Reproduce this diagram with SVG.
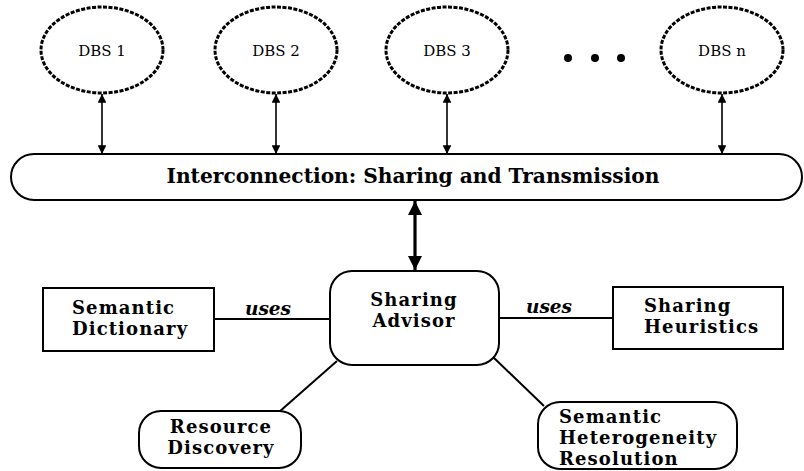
<svg xmlns="http://www.w3.org/2000/svg" width="804" height="471" viewBox="0 0 804 471">
<defs>
<style>
.db{fill:#fff;stroke:#000;stroke-width:3;stroke-dasharray:4 1.5}
.box{fill:#fff;stroke:#000;stroke-width:2}
.t{font-family:"DejaVu Serif","Liberation Serif",serif;fill:#000}
.dbt{font-size:15px}
.b{font-weight:bold;font-size:18px;letter-spacing:1.1px}
.bi{font-weight:bold;font-size:20.2px}
.u{font-weight:bold;font-style:italic;font-size:18.5px}
.ln{stroke:#000;stroke-width:2;fill:none}
.ar{stroke:#000;stroke-width:1.6;fill:none}
</style>
<marker id="ah" viewBox="0 0 10 10" refX="10" refY="5" markerWidth="5.5" markerHeight="5.5" orient="auto-start-reverse" markerUnits="strokeWidth"><path d="M0,0L10,5L0,10z" fill="#000"/></marker>
<marker id="ahb" viewBox="0 0 10 10" refX="10" refY="5" markerWidth="4.5" markerHeight="5.5" orient="auto-start-reverse" markerUnits="strokeWidth"><path d="M0,0L10,5L0,10z" fill="#000"/></marker>
</defs>
<rect width="804" height="471" fill="#fff"/>
<g id="connectors">
<line class="ar" x1="102" y1="94" x2="102" y2="154" marker-start="url(#ah)" marker-end="url(#ah)"/>
<line class="ar" x1="276" y1="94" x2="276" y2="154" marker-start="url(#ah)" marker-end="url(#ah)"/>
<line class="ar" x1="447" y1="94" x2="447" y2="154" marker-start="url(#ah)" marker-end="url(#ah)"/>
<line class="ar" x1="722" y1="94" x2="722" y2="154" marker-start="url(#ah)" marker-end="url(#ah)"/>
<line x1="415" y1="201" x2="415" y2="270" stroke="#000" stroke-width="3.2" marker-start="url(#ahb)" marker-end="url(#ahb)"/>
<line class="ln" x1="214" y1="319" x2="330" y2="319"/>
<line class="ln" x1="499" y1="318" x2="613" y2="318"/>
<line class="ln" x1="337" y1="361" x2="279" y2="412"/>
<line class="ln" x1="493" y1="357" x2="544" y2="406"/>
</g>
<g id="dbs1"><ellipse class="db" cx="102" cy="50" rx="61" ry="43"/><text class="t dbt" x="102" y="56" text-anchor="middle">DBS 1</text></g>
<g id="dbs2"><ellipse class="db" cx="276" cy="50" rx="61" ry="43"/><text class="t dbt" x="276" y="56" text-anchor="middle">DBS 2</text></g>
<g id="dbs3"><ellipse class="db" cx="447" cy="50" rx="61" ry="43"/><text class="t dbt" x="447" y="56" text-anchor="middle">DBS 3</text></g>
<g id="dots"><circle cx="568" cy="58" r="4"/><circle cx="595" cy="58" r="4"/><circle cx="621" cy="58" r="4"/></g>
<g id="dbsn"><ellipse class="db" cx="722" cy="50" rx="61" ry="43"/><text class="t dbt" x="722" y="56" text-anchor="middle">DBS n</text></g>
<g id="interconnection"><rect class="box" x="11" y="154" width="791" height="46" rx="23" ry="23"/><text class="t bi" x="413" y="183" text-anchor="middle">Interconnection: Sharing and Transmission</text></g>
<g id="advisor"><rect class="box" x="330" y="271" width="169" height="94" rx="22" ry="22"/><text class="t b" x="414" y="306" text-anchor="middle">Sharing</text><text class="t b" x="414" y="327" text-anchor="middle">Advisor</text></g>
<g id="dictionary"><rect class="box" x="43" y="288" width="171" height="63"/><text class="t b" x="72" y="314">Semantic</text><text class="t b" x="72" y="335">Dictionary</text></g>
<text class="t u" x="268" y="315" text-anchor="middle">uses</text>
<text class="t u" x="549" y="313" text-anchor="middle">uses</text>
<g id="heuristics"><rect class="box" x="613" y="287" width="170" height="62"/><text class="t b" x="644" y="312">Sharing</text><text class="t b" x="644" y="333">Heuristics</text></g>
<g id="resource"><rect class="box" x="139" y="411" width="162" height="57" rx="22" ry="22"/><text class="t b" x="221" y="433" text-anchor="middle">Resource</text><text class="t b" x="221" y="454" text-anchor="middle">Discovery</text></g>
<g id="heterogeneity"><rect class="box" x="538" y="402" width="199" height="67" rx="22" ry="22"/><text class="t b" x="559" y="423">Semantic</text><text class="t b" x="559" y="444">Heterogeneity</text><text class="t b" x="559" y="465">Resolution</text></g>
</svg>
